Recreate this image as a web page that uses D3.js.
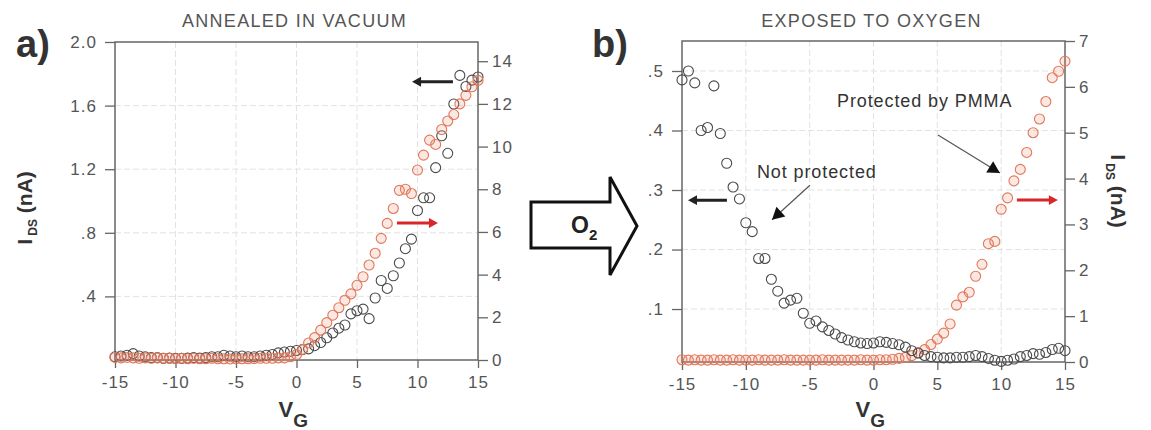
<!DOCTYPE html>
<html>
<head>
<meta charset="utf-8">
<script src="https://cdn.jsdelivr.net/npm/d3@7"></script>
<style>
  body { margin: 0; background: #fff; }
  text { font-family: "Liberation Sans", Arial, sans-serif; }
</style>
</head>
<body>
<script>
// gate voltage, one sample every 0.5 V
const vg = [-15, -14.5, -14, -13.5, -13, -12.5, -12, -11.5, -11, -10.5,
  -10, -9.5, -9, -8.5, -8, -7.5, -7, -6.5, -6, -5.5,
  -5, -4.5, -4, -3.5, -3, -2.5, -2, -1.5, -1, -0.5,
  0, 0.5, 1, 1.5, 2, 2.5, 3, 3.5, 4, 4.5,
  5, 5.5, 6, 6.5, 7, 7.5, 8, 8.5, 9, 9.5,
  10, 10.5, 11, 11.5, 12, 12.5, 13, 13.5, 14, 14.5, 15]

// a) annealed in vacuum
const annealedBlack = [0.02, 0.025, 0.03, 0.04, 0.025, 0.02, 0.015, 0.015, 0.01, 0.012,
  0.01, 0.01, 0.012, 0.015, 0.012, 0.015, 0.02, 0.02, 0.03, 0.025,
  0.02, 0.025, 0.02, 0.02, 0.025, 0.03, 0.035, 0.045, 0.05, 0.055,
  0.06, 0.065, 0.07, 0.09, 0.11, 0.14, 0.17, 0.2, 0.22, 0.29,
  0.31, 0.32, 0.26, 0.39, 0.5, 0.45, 0.53, 0.61, 0.7, 0.76,
  0.94, 1.02, 1.02, 1.21, 1.41, 1.3, 1.61, 1.79, 1.72, 1.76, 1.78]
const annealedRed = [0.12, 0.1, 0.12, 0.1, 0.08, 0.1, 0.08, 0.1, 0.08, 0.08,
  0.06, 0.08, 0.06, 0.08, 0.06, 0.06, 0.08, 0.06, 0.06, 0.05,
  0.06, 0.06, 0.06, 0.07, 0.08, 0.08, 0.08, 0.1, 0.1, 0.15,
  0.25, 0.5, 0.8, 1.05, 1.4, 1.75, 2.1, 2.45, 2.8, 3.1,
  3.5, 3.9, 4.45, 5.0, 5.7, 6.4, 7.1, 7.95, 8.0, 7.8,
  8.9, 9.6, 10.3, 10.1, 10.8, 11.2, 11.5, 12.0, 12.4, 12.8, 13.1]

// b) exposed to oxygen
const exposedBlack = [0.485, 0.5, 0.48, 0.4, 0.405, 0.475, 0.395, 0.345, 0.305, 0.285,
  0.245, 0.23, 0.185, 0.185, 0.15, 0.13, 0.11, 0.115, 0.118, 0.093,
  0.076, 0.08, 0.07, 0.064, 0.058, 0.052, 0.048, 0.045, 0.043, 0.042,
  0.043, 0.045, 0.044, 0.042, 0.04, 0.036, 0.03, 0.026, 0.022, 0.02,
  0.019, 0.018, 0.018, 0.019, 0.019, 0.02, 0.022, 0.02, 0.017, 0.014,
  0.012, 0.014, 0.016, 0.02, 0.022, 0.025, 0.024, 0.027, 0.032, 0.034, 0.03]
const exposedRed = [0.05, 0.04, 0.05, 0.04, 0.04, 0.05, 0.04, 0.04, 0.05, 0.04,
  0.04, 0.04, 0.05, 0.04, 0.04, 0.04, 0.05, 0.04, 0.04, 0.04,
  0.04, 0.04, 0.05, 0.04, 0.04, 0.04, 0.04, 0.04, 0.05, 0.04,
  0.04, 0.05, 0.05, 0.06, 0.08, 0.1, 0.14, 0.2, 0.27, 0.38,
  0.5, 0.63, 0.83, 1.24, 1.42, 1.52, 1.87, 2.13, 2.58, 2.63,
  3.33, 3.58, 3.95, 4.2, 4.57, 5.0, 5.3, 5.68, 6.2, 6.34, 6.56]

// ticks
const xTicks = [-15, -10, -5, 0, 5, 10, 15]
const xGrid = [-10, -5, 0, 5, 10]
const annealedLeftTicks = [0.4, 0.8, 1.2, 1.6, 2.0]
const annealedRightTicks = [0, 2, 4, 6, 8, 10, 12, 14]
const exposedLeftTicks = [0.1, 0.2, 0.3, 0.4, 0.5]
const exposedRightTicks = [0, 1, 2, 3, 4, 5, 6, 7]

const width = 1151, height = 430
const svg = d3.select("body").append("svg")
    .attr("width", width)
    .attr("height", height)

const leftFmt = d => d === 2 ? "2.0" : d3.format(".1f")(d).replace(/^0/, "")
const plainFmt = d => String(d)

const panels = [
  {
    left: 115, right: 478, top: 42, bottom: 360,
    leftDomain: [0, 2], rightDomain: [0, 14.9],
    leftTicks: annealedLeftTicks, rightTicks: annealedRightTicks,
    black: annealedBlack, red: annealedRed, redOnTop: true,
    title: "ANNEALED IN VACUUM", tag: "a)", tagX: 16,
    blackArrow: { x1: 12.93, x2: 9.55, y: 1.75 },
    redArrow: { x1: 8.3, x2: 11.69, y: 6.42 }
  },
  {
    left: 682, right: 1065, top: 41, bottom: 362,
    leftDomain: [0.011, 0.5504], rightDomain: [0, 7],
    leftTicks: exposedLeftTicks, rightTicks: exposedRightTicks,
    black: exposedBlack, red: exposedRed, redOnTop: false,
    title: "EXPOSED TO OXYGEN", tag: "b)", tagX: 592,
    blackArrow: { x1: -11.48, x2: -14.53, y: 0.283 },
    redArrow: { x1: 11.23, x2: 14.44, y: 3.53 }
  }
]

const scales = panels.map(p => ({
  x: d3.scaleLinear().domain([-15, 15]).range([p.left, p.right]),
  yl: d3.scaleLinear().domain(p.leftDomain).range([p.bottom, p.top]),
  yr: d3.scaleLinear().domain(p.rightDomain).range([p.bottom, p.top])
}))

function arrowHead(g, x1, y1, x2, y2, size, color) {
  // filled triangle pointing from (x1,y1) towards (x2,y2)
  const a = Math.atan2(y2 - y1, x2 - x1)
  const w = size * 0.55
  const pts = [
    [x2, y2],
    [x2 - size * Math.cos(a) + w * Math.sin(a), y2 - size * Math.sin(a) - w * Math.cos(a)],
    [x2 - size * Math.cos(a) - w * Math.sin(a), y2 - size * Math.sin(a) + w * Math.cos(a)]
  ]
  g.append("polygon").attr("points", pts.map(d => d.join(",")).join(" ")).attr("fill", color)
}

panels.forEach((p, i) => {
  const { x, yl, yr } = scales[i]
  const g = svg.append("g")

  // grid
  g.selectAll(".vgrid").data(xGrid).join("line")
      .attr("x1", d => x(d)).attr("x2", d => x(d))
      .attr("y1", p.top).attr("y2", p.bottom)
      .attr("stroke", "#e2e2e2").attr("stroke-dasharray", "6,3")
  g.selectAll(".hgrid").data(p.leftTicks.filter(d => d < p.leftDomain[1] - 0.05)).join("line")
      .attr("x1", p.left).attr("x2", p.right)
      .attr("y1", d => yl(d)).attr("y2", d => yl(d))
      .attr("stroke", "#e2e2e2").attr("stroke-dasharray", "6,3")

  // axes
  const styleAxis = sel => {
    sel.select(".domain").remove()
    sel.selectAll(".tick line").attr("stroke", "#666").attr("stroke-width", 1.3)
    sel.selectAll(".tick text")
        .attr("fill", "#555")
        .style("font-size", "17px")
        .style("letter-spacing", "1px")
  }
  g.append("g")
      .attr("transform", `translate(0,${p.bottom})`)
      .call(d3.axisBottom(x).tickValues(xTicks).tickFormat(plainFmt).tickSize(8).tickPadding(8))
      .call(styleAxis)
  g.append("g")
      .attr("transform", `translate(${p.left},0)`)
      .call(d3.axisLeft(yl).tickValues(p.leftTicks).tickFormat(leftFmt).tickSize(10).tickPadding(8))
      .call(styleAxis)
  g.append("g")
      .attr("transform", `translate(${p.right},0)`)
      .call(d3.axisRight(yr).tickValues(p.rightTicks).tickFormat(plainFmt).tickSize(10).tickPadding(4))
      .call(styleAxis)

  // frame
  g.append("rect")
      .attr("x", p.left).attr("y", p.top)
      .attr("width", p.right - p.left).attr("height", p.bottom - p.top)
      .attr("fill", "none").attr("stroke", "#666").attr("stroke-width", 1.5)

  // data
  const drawBlack = () => g.append("g").selectAll("circle")
      .data(vg.map((v, j) => [v, p.black[j]])).join("circle")
      .attr("cx", d => x(d[0])).attr("cy", d => yl(d[1])).attr("r", 5)
      .attr("fill", "none").attr("stroke", "#4a4a4a").attr("stroke-width", 1.1)
  const drawRed = () => g.append("g").selectAll("circle")
      .data(vg.map((v, j) => [v, p.red[j]])).join("circle")
      .attr("cx", d => x(d[0])).attr("cy", d => yr(d[1])).attr("r", 5)
      .attr("fill", "rgba(240,130,100,0.18)").attr("stroke", "#e0785a").attr("stroke-width", 1.1)
  if (p.redOnTop) { drawBlack(); drawRed() } else { drawRed(); drawBlack() }

  // axis side arrows
  const ba = p.blackArrow, ra = p.redArrow
  g.append("line")
      .attr("x1", x(ba.x1)).attr("x2", x(ba.x2) + 6)
      .attr("y1", yl(ba.y)).attr("y2", yl(ba.y))
      .attr("stroke", "#222").attr("stroke-width", 3)
  arrowHead(g, x(ba.x1), yl(ba.y), x(ba.x2), yl(ba.y), 9, "#222")
  g.append("line")
      .attr("x1", x(ra.x1)).attr("x2", x(ra.x2) - 6)
      .attr("y1", yr(ra.y)).attr("y2", yr(ra.y))
      .attr("stroke", "#d8262a").attr("stroke-width", 3)
  arrowHead(g, x(ra.x1), yr(ra.y), x(ra.x2), yr(ra.y), 9, "#d8262a")

  // title and tag
  svg.append("text")
      .attr("x", (p.left + p.right) / 2 - 2).attr("y", 27)
      .attr("text-anchor", "middle")
      .attr("fill", "#555")
      .style("font-size", "18px")
      .style("letter-spacing", "1.3px")
      .text(p.title)
  svg.append("text")
      .attr("x", p.tagX).attr("y", 57)
      .attr("fill", "#333")
      .style("font-size", "38px").style("font-weight", "bold")
      .text(p.tag)

  // x label
  const xl = svg.append("text")
      .attr("x", (p.left + p.right) / 2 - 18).attr("y", 417)
      .attr("fill", "#333").style("font-weight", "bold")
  xl.append("tspan").style("font-size", "22px").text("V")
  xl.append("tspan").attr("dy", 10).style("font-size", "19px").text("G")
})

// left y label (panel a)
const ylA = svg.append("text")
    .attr("transform", "translate(32,208) rotate(-90)")
    .attr("text-anchor", "middle")
    .attr("fill", "#333").style("font-weight", "bold")
ylA.append("tspan").style("font-size", "21px").text("I")
ylA.append("tspan").attr("dy", 5).style("font-size", "12px").text(" DS")
ylA.append("tspan").attr("dy", -5).style("font-size", "21px").text(" (nA)")

// right y label (panel b)
const ylB = svg.append("text")
    .attr("transform", "translate(1111,191) rotate(90)")
    .attr("text-anchor", "middle")
    .attr("fill", "#333").style("font-weight", "bold")
ylB.append("tspan").style("font-size", "21px").text("I")
ylB.append("tspan").attr("dy", 5).style("font-size", "12px").text(" DS")
ylB.append("tspan").attr("dy", -5).style("font-size", "21px").text(" (nA)")

// O2 block arrow between the panels
const o2 = svg.append("g")
o2.append("polygon")
    .attr("points", "531,202 610,202 610,177 637,226 610,275 610,248 531,248")
    .attr("fill", "#fff").attr("stroke", "#111").attr("stroke-width", 3)
const o2t = o2.append("text").attr("x", 571).attr("y", 233)
    .attr("fill", "#222").style("font-weight", "bold")
o2t.append("tspan").style("font-size", "23px").text("O")
o2t.append("tspan").attr("dy", 7).style("font-size", "15px").text("2")

// annotations in panel b
const sb = scales[1]
const ann = svg.append("g")
ann.append("text")
    .attr("x", sb.x(-9.13)).attr("y", sb.yl(0.32))
    .attr("fill", "#333").style("font-size", "18px").style("letter-spacing", "0.9px")
    .text("Not protected")
ann.append("line")
    .attr("x1", sb.x(-4.98)).attr("y1", sb.yl(0.308))
    .attr("x2", sb.x(-7.95)).attr("y2", sb.yl(0.25))
    .attr("stroke", "#555").attr("stroke-width", 1.2)
arrowHead(ann, sb.x(-4.98), sb.yl(0.308), sb.x(-7.95), sb.yl(0.25), 12, "#111")
ann.append("text")
    .attr("x", sb.x(-2.86)).attr("y", sb.yr(5.56))
    .attr("fill", "#333").style("font-size", "18px").style("letter-spacing", "0.9px")
    .text("Protected by PMMA")
ann.append("line")
    .attr("x1", sb.x(5.05)).attr("y1", sb.yr(4.95))
    .attr("x2", sb.x(9.9)).attr("y2", sb.yr(4.12))
    .attr("stroke", "#555").attr("stroke-width", 1.2)
arrowHead(ann, sb.x(5.05), sb.yr(4.95), sb.x(9.9), sb.yr(4.12), 12, "#111")
</script>
</body>
</html>
